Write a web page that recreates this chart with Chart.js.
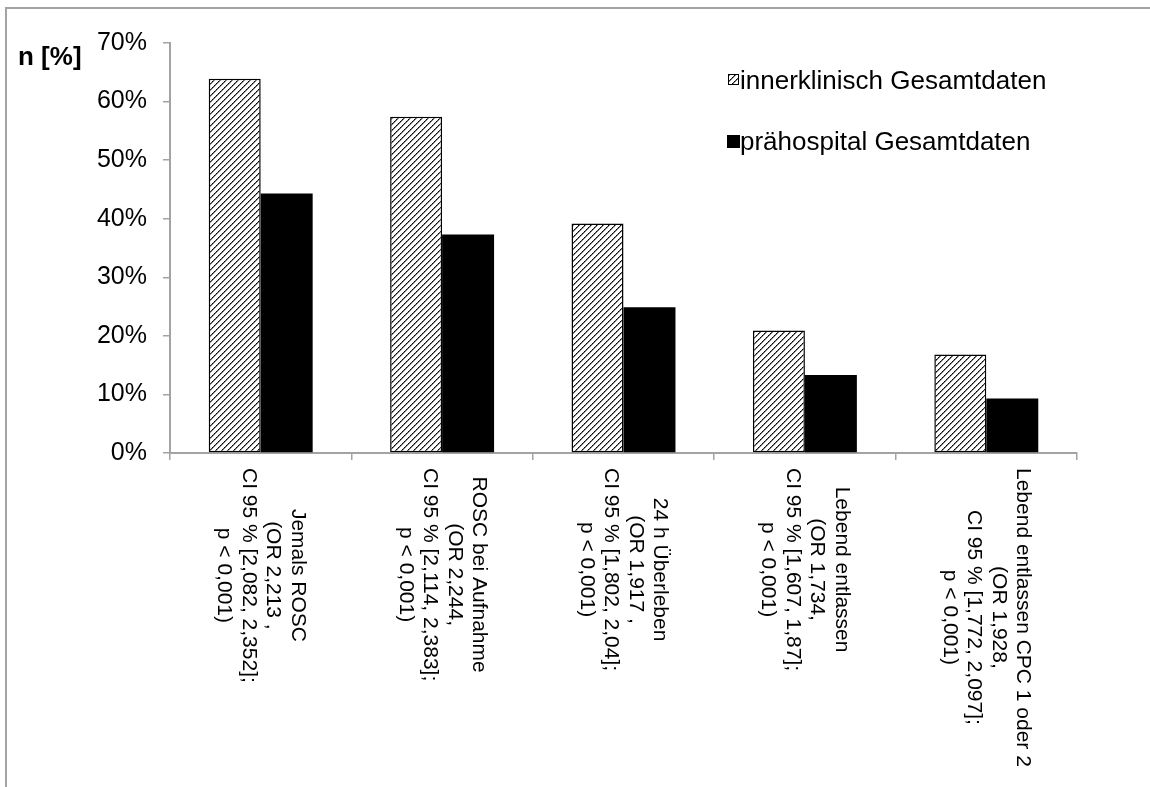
<!DOCTYPE html>
<html lang="de">
<head>
<meta charset="utf-8">
<title>Reanimationsergebnisse innerklinisch vs. prähospital</title>
<script src="https://cdn.jsdelivr.net/npm/chart.js@4/dist/chart.umd.min.js"></script>
<style>
  html, body { margin: 0; padding: 0; background: #fff; }
  #wrap { position: relative; width: 1150px; height: 787px; }
  #frame { position: absolute; left: 5px; top: 7px; right: 0; bottom: 0;
           border-top: 2px solid #a3a3a3; border-left: 2px solid #a3a3a3; pointer-events: none; }
  canvas { position: absolute; left: 0; top: 0; }
</style>
</head>
<body>
<div id="wrap">
  <canvas id="chart" width="1150" height="787"></canvas>
  <div id="frame"></div>
</div>
<script>
// Category labels, one entry per line of the rotated axis text
const categories = [
  ['Jemals ROSC', '(OR 2,213 ,', 'CI 95 % [2,082, 2,352];', 'p < 0,001)'],
  ['ROSC bei Aufnahme', '(OR 2,244,', 'CI 95 % [2,114, 2,383];', 'p < 0,001)'],
  ['24 h Überleben', '(OR 1,917 ,', 'CI 95 % [1,802, 2,04];', 'p < 0,001)'],
  ['Lebend entlassen', '(OR 1,734,', 'CI 95 % [1,607, 1,87];', 'p < 0,001)'],
  ['Lebend entlassen CPC 1 oder 2', '(OR 1,928,', 'CI 95 % [1,772, 2,097];', 'p < 0,001)']
];

// Series labels
const seriesNames = ['innerklinisch Gesamtdaten', 'prähospital Gesamtdaten'];

// Percentages per category
const innerklinisch = [63.9, 57.4, 39.2, 20.9, 16.8];
const praehospital = [44.3, 37.3, 24.9, 13.3, 9.3];

// Y axis tick labels (0 % .. 70 % in steps of 10)
const yTickLabels = ['0%', '10%', '20%', '30%', '40%', '50%', '60%', '70%'];
const yAxisTitle = 'n [%]';

const FONT = '"Liberation Sans", Arial, Helvetica, sans-serif';
const AXIS_GREY = '#a3a3a3';

// Diagonal dotted hatch used for the in-hospital series
function makeHatch(ctx) {
  const c = document.createElement('canvas');
  c.width = 6; c.height = 6;
  const g = c.getContext('2d');
  g.fillStyle = '#fff';
  g.fillRect(0, 0, 6, 6);
  for (let i = 0; i < 6; i++) {
    g.fillStyle = i % 2 ? '#3a3a3a' : '#000';
    g.fillRect(i, 5 - i, 1, 1);
    g.fillStyle = 'rgba(0,0,0,0.5)';
    g.fillRect((i + 1) % 6, 5 - i, 1, 1);
  }
  return ctx.createPattern(c, 'repeat');
}

const canvas = document.getElementById('chart');
const ctx0 = canvas.getContext('2d');
const hatch = makeHatch(ctx0);

// Axis labels, legend and title drawn on top of the bars
const decor = {
  id: 'decor',
  afterDraw(chart) {
    const ctx = chart.ctx;
    const xs = chart.scales.x;
    ctx.save();
    ctx.fillStyle = '#000';

    // rotated multi-line category labels, reading top to bottom
    ctx.font = '21px ' + FONT;
    ctx.textAlign = 'center';
    ctx.textBaseline = 'middle';
    const lineH = 24.5;
    categories.forEach((lines, i) => {
      const cx = xs.getPixelForValue(i);
      const maxW = Math.max(...lines.map(l => ctx.measureText(l).width));
      const top = xs.top + 15;
      ctx.save();
      ctx.translate(cx, top + maxW / 2);
      ctx.rotate(Math.PI / 2);
      lines.forEach((l, j) => {
        ctx.fillText(l, 0, (j - (lines.length - 1) / 2) * lineH);
      });
      ctx.restore();
    });

    // y axis title
    ctx.font = 'bold 26px ' + FONT;
    ctx.textAlign = 'left';
    ctx.textBaseline = 'alphabetic';
    ctx.fillText(yAxisTitle, 18, 65);

    // legend
    const ds = chart.data.datasets;
    const items = [
      { box: [728, 74, 11, 11], textY: 89 },
      { box: [727, 135, 13, 13], textY: 150 }
    ];
    ctx.font = '26px ' + FONT;
    items.forEach((it, k) => {
      const [bx, by, bw, bh] = it.box;
      ctx.fillStyle = ds[k].backgroundColor;
      ctx.fillRect(bx, by, bw, bh);
      if (ds[k].borderWidth) {
        ctx.strokeStyle = ds[k].borderColor;
        ctx.lineWidth = 1;
        ctx.strokeRect(bx + 0.5, by + 0.5, bw - 1, bh - 1);
      }
      ctx.fillStyle = '#000';
      ctx.fillText(ds[k].label, 740, it.textY);
    });
    ctx.restore();
  }
};

new Chart(canvas, {
  type: 'bar',
  data: {
    labels: categories.map(c => c.join(' ')),
    datasets: [
      {
        label: seriesNames[0],
        data: innerklinisch,
        backgroundColor: hatch,
        borderColor: '#000',
        borderWidth: 1.5,
        borderSkipped: false
      },
      {
        label: seriesNames[1],
        data: praehospital,
        backgroundColor: '#000',
        borderWidth: 0
      }
    ]
  },
  options: {
    responsive: false,
    animation: false,
    devicePixelRatio: 1,
    categoryPercentage: 0.573,
    barPercentage: 1.0,
    layout: { padding: { top: 43, right: 73, left: 0, bottom: 0 } },
    plugins: {
      legend: { display: false },
      tooltip: { enabled: false },
      title: { display: false }
    },
    scales: {
      x: {
        grid: {
          display: true,
          offset: true,
          drawOnChartArea: false,
          drawTicks: true,
          tickLength: 7,
          color: AXIS_GREY,
          lineWidth: 1.5
        },
        border: { display: true, color: AXIS_GREY, width: 2 },
        ticks: { display: false },
        afterFit(scale) { scale.height = 787 - 453; }
      },
      y: {
        min: 0,
        max: 70,
        ticks: {
          stepSize: 10,
          color: '#000',
          padding: 16,
          font: { family: FONT, size: 25 },
          callback: (v) => yTickLabels[Math.round(v / 10)]
        },
        grid: {
          display: true,
          drawOnChartArea: false,
          drawTicks: true,
          tickLength: 7,
          color: AXIS_GREY,
          lineWidth: 1.5
        },
        border: { display: true, color: AXIS_GREY, width: 2 },
        afterFit(scale) { scale.width = 170; }
      }
    }
  },
  plugins: [decor]
});
</script>
</body>
</html>
